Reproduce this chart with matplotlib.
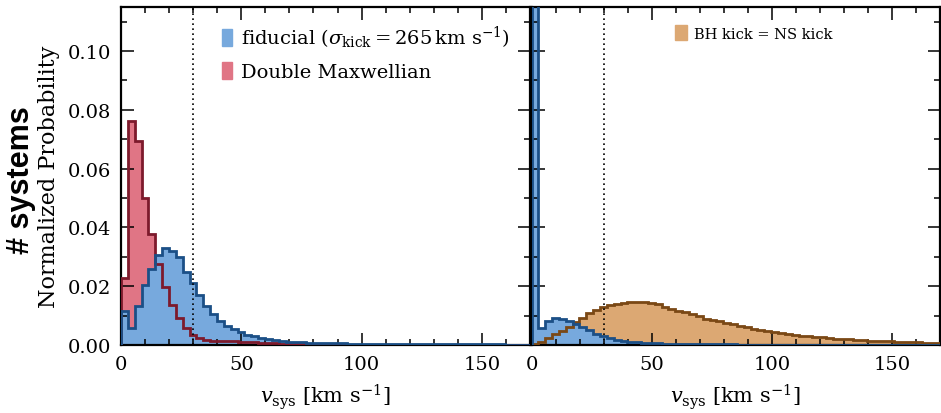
import numpy as np
import matplotlib
matplotlib.use('Agg')
import matplotlib.pyplot as plt
from matplotlib.patches import Patch
from matplotlib.ticker import MultipleLocator, FormatStrFormatter

plt.rcParams['font.family'] = 'DejaVu Serif'
plt.rcParams['mathtext.fontset'] = 'custom'
plt.rcParams['mathtext.rm'] = 'DejaVu Serif'
plt.rcParams['mathtext.it'] = 'DejaVu Serif:italic'

# bin edges (km/s)
edges = np.linspace(0, 171, 61)

# left panel: fiducial kicks
fid_left = [0.0114, 0.0057, 0.0134, 0.0205, 0.0257, 0.0307, 0.0330, 0.0321, 0.0298, 0.0250,
            0.0212, 0.0171, 0.0132, 0.0105, 0.0082, 0.0066, 0.0055, 0.0043, 0.0034, 0.0030,
            0.0025, 0.0020, 0.0018, 0.0014, 0.0011, 0.0010, 0.0009, 0.0008, 0.0008, 0.0007,
            0.0007, 0.0006, 0.0006, 0.0005, 0.0005, 0.0005, 0.0004, 0.0004, 0.0004, 0.0004,
            0.0003, 0.0003, 0.0003, 0.0003, 0.0003, 0.0003, 0.0002, 0.0002, 0.0002, 0.0002,
            0.0002, 0.0002, 0.0002, 0.0002, 0.0002, 0.0002, 0.0001, 0.0001, 0.0001, 0.0001]

# left panel: double Maxwellian
dmax_left = [0.0228, 0.0762, 0.0694, 0.0501, 0.0379, 0.0275, 0.0196, 0.0137, 0.0091, 0.0059,
             0.0034, 0.0023, 0.0018, 0.0015, 0.0014, 0.0013, 0.0012, 0.0011, 0.0010, 0.0009,
             0.0008, 0.0007, 0.0006, 0.0005, 0.0005, 0.0004, 0.0003, 0.0003, 0.0002, 0.0002,
             0.0002, 0.0001, 0.0001, 0.0001, 0.0001, 0.0001, 0.0001, 0.0001, 0.0000, 0.0000,
             0.0000, 0.0000, 0.0000, 0.0000, 0.0000, 0.0000, 0.0000, 0.0000, 0.0000, 0.0000,
             0.0000, 0.0000, 0.0000, 0.0000, 0.0000, 0.0000, 0.0000, 0.0000, 0.0000, 0.0000]

# right panel: fiducial (first bin runs off the top)
fid_right = [0.3000, 0.0057, 0.0083, 0.0093, 0.0089, 0.0082, 0.0073, 0.0061, 0.0050, 0.0039,
             0.0030, 0.0023, 0.0018, 0.0014, 0.0011, 0.0009, 0.0008, 0.0007, 0.0006, 0.0005,
             0.0004, 0.0004, 0.0003, 0.0003, 0.0003, 0.0002, 0.0002, 0.0002, 0.0002, 0.0002,
             0.0001, 0.0001, 0.0001, 0.0001, 0.0001, 0.0001, 0.0001, 0.0001, 0.0001, 0.0001,
             0.0001, 0.0001, 0.0001, 0.0001, 0.0000, 0.0000, 0.0000, 0.0000, 0.0000, 0.0000,
             0.0000, 0.0000, 0.0000, 0.0000, 0.0000, 0.0000, 0.0000, 0.0000, 0.0000, 0.0000]

# right panel: BH kick = NS kick
bhns_right = [0.0004, 0.0011, 0.0023, 0.0036, 0.0047, 0.0062, 0.0079, 0.0091, 0.0108, 0.0120,
              0.0128, 0.0136, 0.0140, 0.0143, 0.0146, 0.0148, 0.0147, 0.0144, 0.0138, 0.0130,
              0.0122, 0.0116, 0.0111, 0.0104, 0.0097, 0.0090, 0.0085, 0.0080, 0.0075, 0.0070,
              0.0065, 0.0060, 0.0055, 0.0050, 0.0046, 0.0043, 0.0040, 0.0037, 0.0035, 0.0032,
              0.0030, 0.0028, 0.0026, 0.0024, 0.0022, 0.0021, 0.0019, 0.0018, 0.0016, 0.0015,
              0.0014, 0.0013, 0.0012, 0.0011, 0.0010, 0.0009, 0.0009, 0.0008, 0.0008, 0.0007]

v_cut = 30

blue_f, blue_e = '#77a9dd', '#1b4f86'
red_f, red_e = '#e07585', '#7d1a2c'
orng_f, orng_e = '#dca873', '#7a4815'

fig = plt.figure(figsize=(9.41, 4.14), dpi=100)
ax1 = fig.add_axes([121/941, 68/414, 409/941, 338/414])
ax2 = fig.add_axes([531.5/941, 68/414, 408.5/941, 338/414], sharey=ax1)


def hist(ax, vals, fc, ec):
    ax.stairs(vals, edges, fill=True, color=fc, zorder=1)
    return lambda: ax.stairs(vals, edges, color=ec, lw=2, zorder=3)


# left panel
l1 = hist(ax1, dmax_left, red_f, red_e)
l2 = hist(ax1, fid_left, blue_f, blue_e)
l1(); l2()
# right panel
r1 = hist(ax2, bhns_right, orng_f, orng_e)
r2 = hist(ax2, fid_right, blue_f, blue_e)
r1(); r2()

for ax in (ax1, ax2):
    ax.axvline(v_cut, color='k', ls=(0, (1, 2)), lw=1.2, zorder=4)
    ax.set_xlim(0, 170)
    ax.set_ylim(0, 0.115)
    ax.xaxis.set_major_locator(MultipleLocator(50))
    ax.xaxis.set_minor_locator(MultipleLocator(10))
    ax.yaxis.set_major_locator(MultipleLocator(0.02))
    ax.yaxis.set_minor_locator(MultipleLocator(0.01))
    ax.tick_params(which='both', direction='in', top=True, right=True, labelsize=14, width=1.1)
    ax.tick_params(which='major', length=9, pad=7)
    ax.tick_params(which='minor', length=4.5)
    for s in ax.spines.values():
        s.set_linewidth(1.6)
    ax.set_xlabel(r'$v_{\rm sys}\ [{\rm km\ s^{-1}}]$', fontsize=15, labelpad=6)

ax2.tick_params(labelleft=False)
ax1.yaxis.set_major_formatter(FormatStrFormatter('%.2f'))
ax1.set_ylabel('Normalized Probability', fontsize=16, labelpad=6)
fig.text(21/941, 0.565, '# systems', rotation=90, ha='center', va='center',
         fontsize=22, fontweight='bold', family='Liberation Sans')

h1 = [Patch(color=blue_f), Patch(color=red_f)]
ax1.legend(h1, [r'fiducial ($\sigma_{\rm kick} = 265\,{\rm km\ s^{-1}}$)', 'Double Maxwellian'],
           loc='upper right', frameon=False, fontsize=14, handlelength=0.5, handleheight=1.0,
           handletextpad=0.5, labelspacing=0.6, borderaxespad=0.3, bbox_to_anchor=(0.985, 0.99))
ax2.legend([Patch(color=orng_f)], ['BH kick = NS kick'], loc='upper right', frameon=False,
           fontsize=10.5, handlelength=0.8, handleheight=1.2, handletextpad=0.5,
           bbox_to_anchor=(0.77, 0.985))

plt.savefig('out.png', dpi=100)
